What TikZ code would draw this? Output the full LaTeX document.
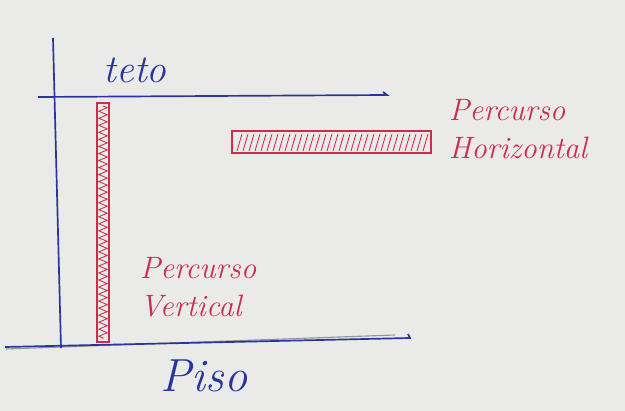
\documentclass[tikz,border=0pt]{standalone}
\usepackage{tikz}
\usetikzlibrary{decorations.pathmorphing}

\definecolor{penblue}{RGB}{42,52,158}
\definecolor{penred}{RGB}{205,45,75}
\definecolor{paper}{RGB}{234,234,232}
\definecolor{pencil}{RGB}{150,150,150}

\begin{document}
\begin{tikzpicture}[x=0.025cm, y=-0.025cm]

  \fill[paper] (0,0) rectangle (625,411);
  \useasboundingbox (0,0) rectangle (625,411);

  % coordinates of the walls
  \coordinate (wtop) at (53, 38);
  \coordinate (wbot) at (61, 348);
  \coordinate (tl) at (38, 97);
  \coordinate (tr) at (387, 95);
  \coordinate (pl) at (5, 347);
  \coordinate (pr) at (410, 338);
  \coordinate (gl) at (6, 349);
  \coordinate (gr) at (395, 335);

  \node[penblue, font=\fontsize{28}{32}\selectfont\itshape] (teto) at (135, 70) {teto};
  \node[penblue, font=\fontsize{33}{38}\selectfont\itshape] (piso) at (204, 376) {Piso};

  \node[penred, font=\fontsize{22}{27}\selectfont\itshape, align=left] (hor) at (518, 129)
    {Percurso\\Horizontal};
  \node[penred, font=\fontsize{22}{27}\selectfont\itshape, align=left] (ver) at (198, 287)
    {Percurso\\Vertical};

  \draw [pencil, line width=0.8pt] (gl) -- (gr);
  \draw [penblue, line width=1.2pt] (wtop) -- (wbot);
  \draw [penblue, line width=1.2pt] (tl) -- (tr) -- ++(-4,-3);
  \draw [penblue, line width=1.2pt] (pl) -- (pr) -- ++(-2,-4);

  % vertical run
  \draw [penred, line width=0.9pt] (97, 103) rectangle (109, 342);
  \draw [penred, line width=0.6pt, decorate,
         decoration={zigzag, segment length=5pt, amplitude=3pt}]
    (103, 106) -- (103, 339);

  % horizontal run
  \draw [penred, line width=0.9pt] (232, 131) rectangle (431, 153);
  \foreach \x in {237,243,...,425}
    \draw [penred, line width=0.6pt] (\x, 151) -- (\x+5, 134);

\end{tikzpicture}
\end{document}
